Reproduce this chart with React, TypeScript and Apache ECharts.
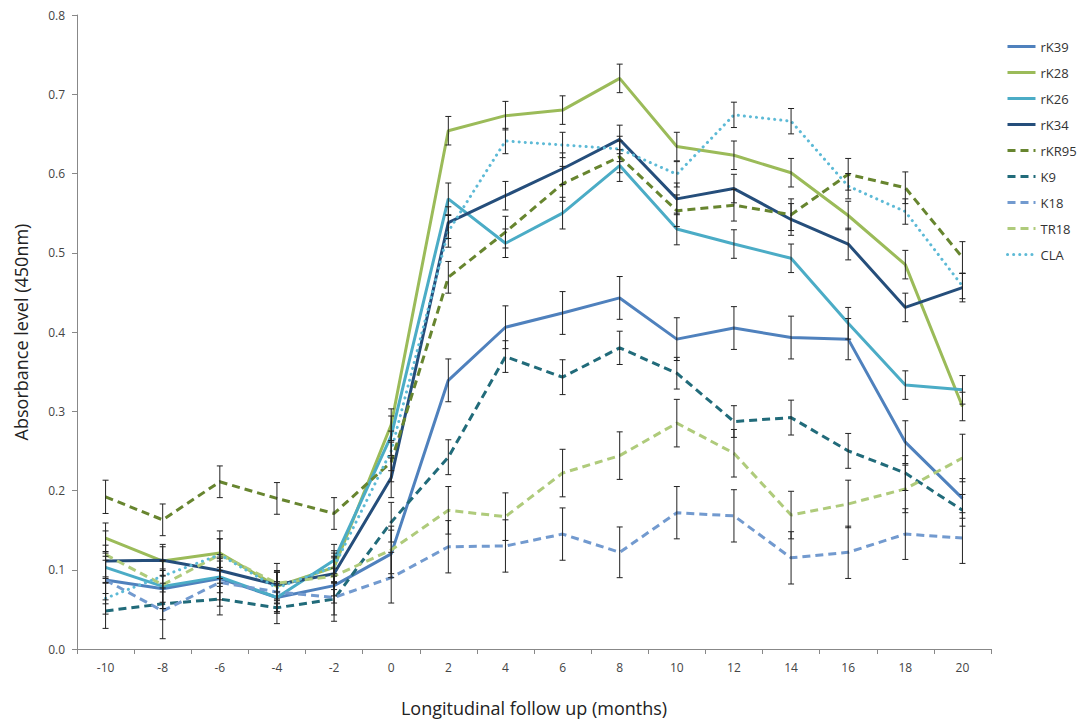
import React, { useEffect, useRef } from "react";
import * as echarts from "echarts";

const months = ["-10", "-8", "-6", "-4", "-2", "0", "2", "4", "6", "8", "10", "12", "14", "16", "18", "20"];
const yTicks = [0, 0.1, 0.2, 0.3, 0.4, 0.5, 0.6, 0.7, 0.8];

const rK39 = [0.087, 0.076, 0.089, 0.065, 0.08, 0.12, 0.339, 0.406, 0.424, 0.443, 0.391, 0.405, 0.393, 0.391, 0.261, 0.19];
const rK28 = [0.14, 0.111, 0.121, 0.079, 0.103, 0.283, 0.654, 0.673, 0.68, 0.72, 0.634, 0.623, 0.601, 0.547, 0.485, 0.306];
const rK26 = [0.103, 0.079, 0.091, 0.065, 0.112, 0.269, 0.568, 0.512, 0.55, 0.61, 0.53, 0.511, 0.493, 0.411, 0.333, 0.327];
const rK34 = [0.111, 0.112, 0.099, 0.081, 0.095, 0.216, 0.538, 0.572, 0.606, 0.643, 0.568, 0.581, 0.542, 0.511, 0.431, 0.456];
const rKR95 = [0.192, 0.163, 0.211, 0.19, 0.171, 0.236, 0.469, 0.526, 0.587, 0.621, 0.553, 0.56, 0.548, 0.599, 0.582, 0.494];
const K9 = [0.048, 0.057, 0.063, 0.052, 0.063, 0.16, 0.242, 0.369, 0.343, 0.38, 0.348, 0.287, 0.292, 0.25, 0.222, 0.175];
const K18 = [0.087, 0.048, 0.084, 0.072, 0.065, 0.09, 0.129, 0.13, 0.145, 0.122, 0.172, 0.168, 0.115, 0.122, 0.145, 0.14];
const TR18 = [0.119, 0.081, 0.119, 0.083, 0.092, 0.125, 0.175, 0.167, 0.222, 0.244, 0.285, 0.247, 0.169, 0.183, 0.202, 0.241];
const CLA = [0.064, 0.092, 0.119, 0.077, 0.104, 0.25, 0.527, 0.641, 0.636, 0.631, 0.599, 0.674, 0.666, 0.584, 0.552, 0.458];

const rK39Err = [0.03, 0.025, 0.027, 0.02, 0.022, 0.03, 0.027, 0.027, 0.027, 0.027, 0.027, 0.027, 0.027, 0.026, 0.027, 0.025];
const rK28Err = [0.019, 0.018, 0.018, 0.018, 0.018, 0.02, 0.018, 0.018, 0.018, 0.018, 0.018, 0.018, 0.018, 0.018, 0.018, 0.018];
const rK26Err = [0.02, 0.02, 0.02, 0.018, 0.02, 0.025, 0.02, 0.018, 0.02, 0.02, 0.02, 0.018, 0.018, 0.02, 0.018, 0.018];
const rK34Err = [0.02, 0.02, 0.02, 0.018, 0.02, 0.025, 0.02, 0.018, 0.02, 0.018, 0.02, 0.018, 0.02, 0.02, 0.018, 0.018];
const rKR95Err = [0.021, 0.02, 0.02, 0.02, 0.02, 0.025, 0.02, 0.02, 0.022, 0.02, 0.02, 0.02, 0.02, 0.02, 0.02, 0.02];
const K9Err = [0.022, 0.02, 0.02, 0.02, 0.02, 0.025, 0.022, 0.02, 0.022, 0.021, 0.02, 0.02, 0.022, 0.022, 0.022, 0.02];
const K18Err = [0.025, 0.035, 0.03, 0.025, 0.03, 0.032, 0.033, 0.033, 0.033, 0.032, 0.033, 0.033, 0.033, 0.033, 0.032, 0.032];
const TR18Err = [0.03, 0.03, 0.03, 0.025, 0.025, 0.03, 0.03, 0.03, 0.03, 0.03, 0.03, 0.03, 0.03, 0.03, 0.03, 0.03];
const CLAErr = [0.02, 0.02, 0.02, 0.02, 0.02, 0.025, 0.02, 0.016, 0.016, 0.016, 0.016, 0.016, 0.016, 0.016, 0.016, 0.016];

const seriesDefs = [
  { name: "rK39", values: rK39, errs: rK39Err, color: "#4F81BD", type: "solid" },
  { name: "rK28", values: rK28, errs: rK28Err, color: "#9BBB59", type: "solid" },
  { name: "rK26", values: rK26, errs: rK26Err, color: "#4BACC6", type: "solid" },
  { name: "rK34", values: rK34, errs: rK34Err, color: "#254E7B", type: "solid" },
  { name: "rKR95", values: rKR95, errs: rKR95Err, color: "#67852F", type: "dashed" },
  { name: "K9", values: K9, errs: K9Err, color: "#216B7A", type: "dashed" },
  { name: "K18", values: K18, errs: K18Err, color: "#729ACF", type: "dashed" },
  { name: "TR18", values: TR18, errs: TR18Err, color: "#AFCB7B", type: "dashed" },
  { name: "CLA", values: CLA, errs: CLAErr, color: "#5DBAD6", type: "dotted" },
];

const FONT = "'Open Sans', 'Noto Sans', sans-serif";

export default function App() {
  const ref = useRef<HTMLDivElement>(null);
  useEffect(() => {
    if (!ref.current) return;
    const chart = echarts.init(ref.current, undefined, { renderer: "svg" });

    const lineSeries = seriesDefs.map((s) => {
      let lineType: any = "solid";
      let cap: any = "butt";
      if (s.type === "dashed") lineType = [8, 5];
      if (s.type === "dotted") {
        lineType = [0.1, 6];
        cap = "round";
      }
      return {
        name: s.name,
        type: "line",
        data: s.values,
        symbol: "none",
        z: 2,
        lineStyle: { color: s.color, width: 3, type: lineType, cap },
        itemStyle: { color: s.color },
      };
    });

    const errData: any[] = [];
    seriesDefs.forEach((s) => {
      s.values.forEach((v, i) => {
        errData.push([i, v - s.errs[i], v + s.errs[i]]);
      });
    });

    const errSeries = {
      type: "custom",
      name: "err",
      z: 5,
      silent: true,
      data: errData,
      renderItem: (params: any, api: any) => {
        const x = api.value(0);
        const lo = api.coord([x, api.value(1)]);
        const hi = api.coord([x, api.value(2)]);
        const w = 3;
        const style = { stroke: "#222", lineWidth: 1 };
        return {
          type: "group",
          children: [
            { type: "line", shape: { x1: lo[0], y1: lo[1], x2: hi[0], y2: hi[1] }, style },
            { type: "line", shape: { x1: lo[0] - w, y1: lo[1], x2: lo[0] + w, y2: lo[1] }, style },
            { type: "line", shape: { x1: hi[0] - w, y1: hi[1], x2: hi[0] + w, y2: hi[1] }, style },
          ],
        };
      },
    };

    chart.setOption({
      animation: false,
      backgroundColor: "#ffffff",
      grid: { left: 77, right: 91, top: 15, bottom: 73, containLabel: false },
      legend: {
        orient: "vertical",
        left: 1001,
        top: 35,
        itemWidth: 28,
        itemHeight: 10,
        itemGap: 13,
        data: seriesDefs.map((s) => s.name),
        itemStyle: { opacity: 0 },
        lineStyle: { width: 3 },
        textStyle: { fontFamily: FONT, fontSize: 13, color: "#333" },
      },
      xAxis: {
        type: "category",
        data: months,
        boundaryGap: true,
        name: "Longitudinal follow up (months)",
        nameLocation: "middle",
        nameGap: 50,
        nameTextStyle: { fontFamily: FONT, fontSize: 18, color: "#222" },
        axisLine: { lineStyle: { color: "#888", width: 1 } },
        axisTick: { show: true, alignWithLabel: false, length: 5, lineStyle: { color: "#888" } },
        axisLabel: { fontFamily: FONT, fontSize: 12, color: "#444", margin: 12 },
        splitLine: { show: false },
      },
      yAxis: {
        type: "value",
        min: yTicks[0],
        max: yTicks[yTicks.length - 1],
        interval: 0.1,
        name: "Absorbance level (450nm)",
        nameLocation: "middle",
        nameGap: 47,
        nameTextStyle: { fontFamily: FONT, fontSize: 18, color: "#222" },
        axisLine: { show: true, lineStyle: { color: "#888", width: 1 } },
        axisTick: { show: true, length: 5, lineStyle: { color: "#888" } },
        axisLabel: {
          fontFamily: FONT,
          fontSize: 12,
          color: "#444",
          margin: 12,
          formatter: (v: number) => v.toFixed(1),
        },
        splitLine: { show: false },
      },
      series: [...lineSeries, errSeries],
    });
    return () => chart.dispose();
  }, []);
  return <div ref={ref} style={{ width: 1082, height: 722, position: "absolute", left: 0, top: 0 }} />;
}
